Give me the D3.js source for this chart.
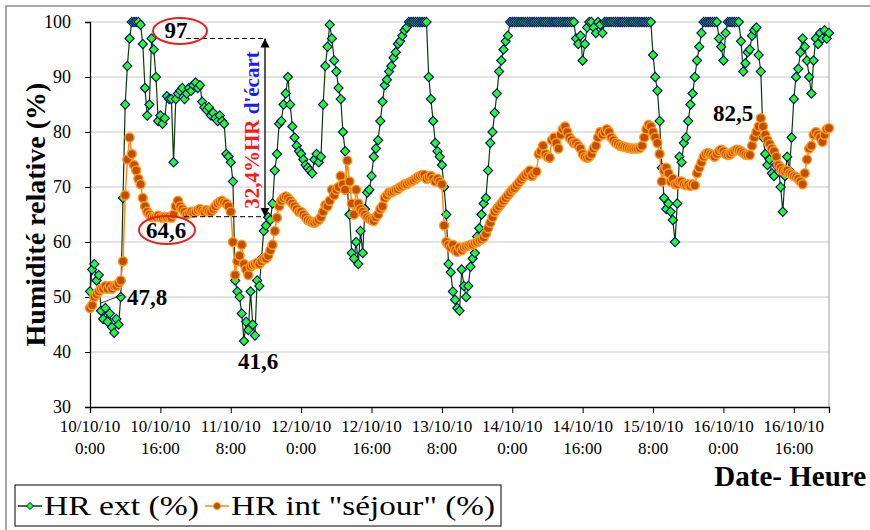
<!DOCTYPE html>
<html>
<head>
<meta charset="utf-8">
<script src="https://cdn.jsdelivr.net/npm/d3@7"></script>
<style>
  body { margin: 0; background: #fff; }
</style>
</head>
<body>
<script>
// relevés toutes les 30 min, du 10/10/10 0:00 au 17/10/10 0:00
const start = new Date(2010, 9, 10, 0, 0);

const hrExt = [
  51,55,56,53,54,47.5,46,48,45.5,47, 44.5,43.5,46,45,50,68,85,92,97,100,
  100,100,100,99.5,96,88,83,85,97,95, 90,82,83,81.5,82.5,86.5,86,86,74.5,86,
  87,87.5,88,86,87,88,87.5,88.5,89,88, 88.5,85.5,84.5,84,84.5,83,83.5,82.5,82,83,
  82,81.5,76,75.5,74.5,71,53,51,50,47, 42,45.5,44,51,45,43,53,52,57,62,
  63,64.5,64,67,73,76,81.5,82,85,87, 90,85,81,79,77.5,76.5,76,75,74,73.5,
  73,72.5,75,76,74.5,75.5,85,92,95.5,99.5, 97,93,91,88,86,80,76.5,69.5,65,58,
  57,60,56,62,58,66,69,69.5,72,75.5, 77,78.5,82,85.5,88.5,89.5,91,92,93.5,94.5,
  96,96.5,97.5,98.5,99,100,100,100,100,100, 100,100,100,100,90,86,82,78,76.5,75.5,
  74,70,65,56,54.5,51,49.5,48,47.5,55, 52,50,52,55.5,57,58,61,62.5,65,67,
  68,73,78,80,83.5,87,91,93,95,96.5, 97.5,100,100,100,100,100,100,100,100,100,
  100,100,100,100,100,100,100,100,100,100, 100,100,100,100,100,100,100,100,100,100,
  100,97,96,97.5,93,96,99,100,100,99, 98,100,99.5,98,100,100,100,100,100,100,
  100,100,100,100,100,100,100,100,100,100, 100,100,100,100,100,100,94,90,87.5,82,
  73.5,68,66,67,65.5,64,60,67,75.5,74.5, 78,79,82,85,87,90,93,95.5,98,100,
  100,100,100,100,100,100,97,95.5,93,98, 100,100,100,100,100,100,96.5,91,92.5,94.5,
  95,97.5,98.5,99,94,91,79,76,74,75, 72.5,72,74,73.5,70,65.5,72,75.5,73,79,
  86,90,91.5,94.5,97,95.5,93,90,87,93, 97,96,98,97,98.5,97,98
];

const hrInt = [
  48,48.5,50,50.5,51,51.5,51.5,52,51.5,52, 51.5,52,52,52.5,53,56.5,68.5,75,79,76,
  74,73,71.5,70.5,68,66.5,65.5,65,64.6,64.5, 64.6,64.8,64.5,64.4,64.6,64.5,64.6,64.4,65,66.5,
  67.5,66.5,66,65.5,65,65.2,65.5,65.3,65.5,65.8, 66,65.7,65.5,65.8,65.6,65.5,66,66.5,67,67.3,
  67.5,67.2,67,66.5,65.5,60,54,56.5,57.5,59.5, 56,55,54,55.5,55.8,56,56.2,56,56.5,57,
  57,57.5,58.5,59.5,62,64.4,66.5,67.5,68,68.3, 68,67.5,67,66.5,66,65.5,65.5,65,64.5,64,
  63.8,63.6,63.5,63.7,64,64.5,65.5,66.7,66.5,67.5, 69.5,68.5,69.5,70,72,70.5,69.5,74.8,71,67,
  65,69.5,67,66,65.5,65,64.5,64.2,64,63.8, 64.5,65,66,66.5,68,68.5,69,69,69.2,69.5,
  69.6,70,70.2,70.5,70.5,70.8,71,71.2,71.5,71.8, 72,72.2,72.2,71.5,71.8,72,71.5,71,71.5,71,
  70.5,63,60,59.5,59,59.5,58.5,58.2,59,58.5, 59,59.2,59.3,59.5,59.5,59.8,60,60.3,60.5,60.8,
  61.5,62.5,63.5,64.5,65.5,66,66.5,67,67.5,68, 68.5,69,69.5,69.8,70.3,70.8,71.3,71.8,72.2,72.6,
  73,72,72.5,72.8,76,76.5,77.5,76,75.5,75.3, 78.5,79,78,77,79.5,80.5,81,80,79,78.5,
  78,78,77.5,77,76,75.5,75.3,75.5,76,77, 77.5,79,80,79.5,80,80.5,80,79,78.5,78,
  77.8,77.5,77.4,77.3,77.2,77.1,77,77,77,77, 77.1,77.5,79,80.5,81.3,81,80,79,78,76,
  71,73,73.5,72.5,71,71.5,70.5,70.5,71,71, 70.5,70.3,70.5,70.2,70.5,70.3,72.5,73.5,74.5,75.5,
  76,76.2,76,75.8,75.5,76,76.5,76.8,76.5,76, 75.8,75.9,76.3,76.6,76.8,76.7,76.5,76.2,75.9,75.8,
  75.8,77.5,79,80,81,82.5,81,79.5,78.5,77.8, 77,76.5,75.5,74,73.5,73,72.8,73,72.5,72.3,
  72,71.8,71.5,71,70.5,72.5,75,77,77.5,79.5, 80,79.5,79,78.2,79.5,80.5,80.7
];

const tickDates = ["10/10/10","10/10/10","11/10/10","12/10/10","12/10/10","13/10/10",
                   "14/10/10","14/10/10","15/10/10","16/10/10","16/10/10"];
const tickHours = ["0:00","16:00","8:00","0:00","16:00","8:00","0:00","16:00","8:00","0:00","16:00"];
const yTicks = [30, 40, 50, 60, 70, 80, 90, 100];
const seriesNames = ["HR ext (%)", "HR int \"séjour\" (%)"];

const width = 870, height = 530;
const margin = {top: 22, right: 41, bottom: 123, left: 90};
const serif = "'Liberation Serif', 'Times New Roman', 'DejaVu Serif', serif";
const H = 3600 * 1000;
const times = hrExt.map((d, i) => new Date(+start + i * H / 2));

const x = d3.scaleTime()
    .domain([start, new Date(+start + 168 * H)])
    .range([margin.left, width - margin.right]);
const y = d3.scaleLinear()
    .domain([30, 100])
    .range([height - margin.bottom, margin.top]);

const svg = d3.select("body").append("svg")
    .attr("width", width)
    .attr("height", height)
    .style("font-family", serif);

// cadre du graphique
svg.append("rect")
    .attr("x", 6).attr("y", 6)
    .attr("width", 900).attr("height", 600)
    .attr("fill", "none")
    .attr("stroke", "#8c8c8c")
    .attr("stroke-width", 1.5);

// grille
svg.append("g")
    .attr("stroke", "#c8c8c8")
  .selectAll("line")
  .data(yTicks.slice(1))
  .join("line")
    .attr("x1", margin.left).attr("x2", width - margin.right)
    .attr("y1", d => y(d)).attr("y2", d => y(d));

svg.append("line")
    .attr("x1", width - margin.right).attr("x2", width - margin.right)
    .attr("y1", y(100)).attr("y2", y(30))
    .attr("stroke", "#a0a0a0");

// axes
const tickVals = d3.range(11).map(i => new Date(+start + i * 16 * H));

const xAxis = svg.append("g")
    .attr("transform", `translate(0,${y(30)})`)
    .call(d3.axisBottom(x).tickValues(tickVals).tickSize(6).tickFormat(""));
xAxis.select(".domain").attr("stroke", "#000").attr("stroke-width", 1.3);

const xl = svg.append("g")
    .style("font-family", serif)
    .attr("font-size", 17)
    .attr("text-anchor", "middle")
  .selectAll("text")
  .data(tickVals)
  .join("text")
    .attr("transform", d => `translate(${x(d)},0)`);
xl.append("tspan").attr("x", 0).attr("y", 432).text((d, i) => tickDates[i]);
xl.append("tspan").attr("x", 0).attr("y", 454).text((d, i) => tickHours[i]);

const yAxis = svg.append("g")
    .attr("transform", `translate(${margin.left},0)`)
    .call(d3.axisLeft(y).tickValues(yTicks).tickSize(5).tickPadding(14));
yAxis.style("font-family", serif).attr("font-size", 18);
yAxis.select(".domain").attr("stroke", "#000").attr("stroke-width", 1.3);
yAxis.selectAll("text").attr("fill", "#000");

svg.append("text")
    .attr("transform", `translate(45,${(y(30) + y(100)) / 2}) rotate(-90)`)
    .attr("text-anchor", "middle")
    .style("font-family", serif)
    .attr("font-weight", "bold")
    .attr("font-size", 28)
    .text("Humidité relative (%)");

svg.append("text")
    .attr("x", 866).attr("y", 486)
    .attr("text-anchor", "end")
    .style("font-family", serif)
    .attr("font-weight", "bold")
    .attr("font-size", 29)
    .text("Date- Heure");

// séries
const diamond = "M0,-4.6L4.6,0L0,4.6L-4.6,0Z";

svg.append("path")
    .datum(hrExt)
    .attr("fill", "none")
    .attr("stroke", "#0a3a0a")
    .attr("stroke-width", 1.2)
    .attr("d", d3.line().x((d, i) => x(times[i])).y(d => y(d)));

svg.append("g")
    .attr("fill", "#22ff22")
    .attr("stroke", "#00107a")
    .attr("stroke-width", 1.1)
  .selectAll("path")
  .data(hrExt)
  .join("path")
    .attr("transform", (d, i) => `translate(${x(times[i])},${y(d)})`)
    .attr("d", diamond);

svg.append("path")
    .datum(hrInt)
    .attr("fill", "none")
    .attr("stroke", "#ff8a1a")
    .attr("stroke-width", 1.5)
    .attr("d", d3.line().x((d, i) => x(times[i])).y(d => y(d)));

svg.append("g")
    .attr("fill", "#c05000")
    .attr("stroke", "#ff9a20")
    .attr("stroke-width", 1.4)
  .selectAll("circle")
  .data(hrInt)
  .join("circle")
    .attr("cx", (d, i) => x(times[i]))
    .attr("cy", d => y(d))
    .attr("r", 4.5);

// annotations
const ann = svg.append("g").attr("font-weight", "bold").style("font-family", serif);

ann.append("line")
    .attr("x1", 186).attr("x2", 265)
    .attr("y1", y(97)).attr("y2", y(97))
    .attr("stroke", "#000").attr("stroke-dasharray", "5,3");
ann.append("line")
    .attr("x1", 184).attr("x2", 265)
    .attr("y1", y(64.6)).attr("y2", y(64.6))
    .attr("stroke", "#000").attr("stroke-dasharray", "5,3");

svg.append("defs").append("marker")
    .attr("id", "arr")
    .attr("viewBox", "0 0 10 10")
    .attr("refX", 10).attr("refY", 5)
    .attr("markerWidth", 7).attr("markerHeight", 7)
    .attr("orient", "auto-start-reverse")
  .append("path")
    .attr("d", "M0,0L10,5L0,10Z");

ann.append("line")
    .attr("x1", 265).attr("x2", 265)
    .attr("y1", y(64.6)).attr("y2", y(97))
    .attr("stroke", "#000").attr("stroke-width", 1.3)
    .attr("marker-start", "url(#arr)")
    .attr("marker-end", "url(#arr)");

ann.append("ellipse")
    .attr("cx", 180).attr("cy", 31).attr("rx", 27).attr("ry", 13)
    .attr("fill", "none").attr("stroke", "#e82020").attr("stroke-width", 2);
ann.append("text")
    .attr("x", 176).attr("y", 38).attr("text-anchor", "middle")
    .attr("font-size", 23).text("97");

ann.append("ellipse")
    .attr("cx", 167).attr("cy", 230).attr("rx", 28).attr("ry", 14)
    .attr("fill", "none").attr("stroke", "#e82020").attr("stroke-width", 2);
ann.append("text")
    .attr("x", 166).attr("y", 238).attr("text-anchor", "middle")
    .attr("font-size", 23).text("64,6");

const ecart = ann.append("text")
    .attr("transform", "translate(259,130) rotate(-90)")
    .attr("text-anchor", "middle")
    .attr("font-size", 21);
ecart.append("tspan").attr("fill", "#ff1a1a").text("32,4%HR");
ecart.append("tspan").attr("fill", "#1a1aff").text(" d'écart");

ann.append("line")
    .attr("x1", 101).attr("y1", 303).attr("x2", 122).attr("y2", 295)
    .attr("stroke", "#000").attr("stroke-width", 0.8);
ann.append("text").attr("x", 127).attr("y", 305).attr("font-size", 23).text("47,8");
ann.append("text").attr("x", 258).attr("y", 369).attr("text-anchor", "middle")
    .attr("font-size", 23).text("41,6");
ann.append("text").attr("x", 733).attr("y", 121).attr("text-anchor", "middle")
    .attr("font-size", 23).text("82,5");

// légende
const leg = svg.append("g").style("font-family", serif);
leg.append("rect")
    .attr("x", 15).attr("y", 485).attr("width", 486).attr("height", 41)
    .attr("fill", "#fff").attr("stroke", "#000");

const legX = [18, 205];
const legW = [155, 264];
leg.selectAll("line")
  .data(seriesNames)
  .join("line")
    .attr("x1", (d, i) => legX[i]).attr("x2", (d, i) => legX[i] + 24)
    .attr("y1", 506).attr("y2", 506)
    .attr("stroke", (d, i) => i ? "#ff8a1a" : "#0a3a0a")
    .attr("stroke-width", 1.5);
leg.append("path")
    .attr("transform", `translate(${legX[0] + 12},506)`)
    .attr("d", "M0,-3.5L3.5,0L0,3.5L-3.5,0Z")
    .attr("fill", "#22ff22").attr("stroke", "#00107a");
leg.append("circle")
    .attr("cx", legX[1] + 12).attr("cy", 506).attr("r", 3.5)
    .attr("fill", "#c05000").attr("stroke", "#ff9a20");
leg.selectAll("text")
  .data(seriesNames)
  .join("text")
    .attr("x", (d, i) => legX[i] + 26)
    .attr("y", 515)
    .attr("font-size", 27)
    .attr("textLength", (d, i) => legW[i])
    .attr("lengthAdjust", "spacingAndGlyphs")
    .text(d => d);
</script>
</body>
</html>
